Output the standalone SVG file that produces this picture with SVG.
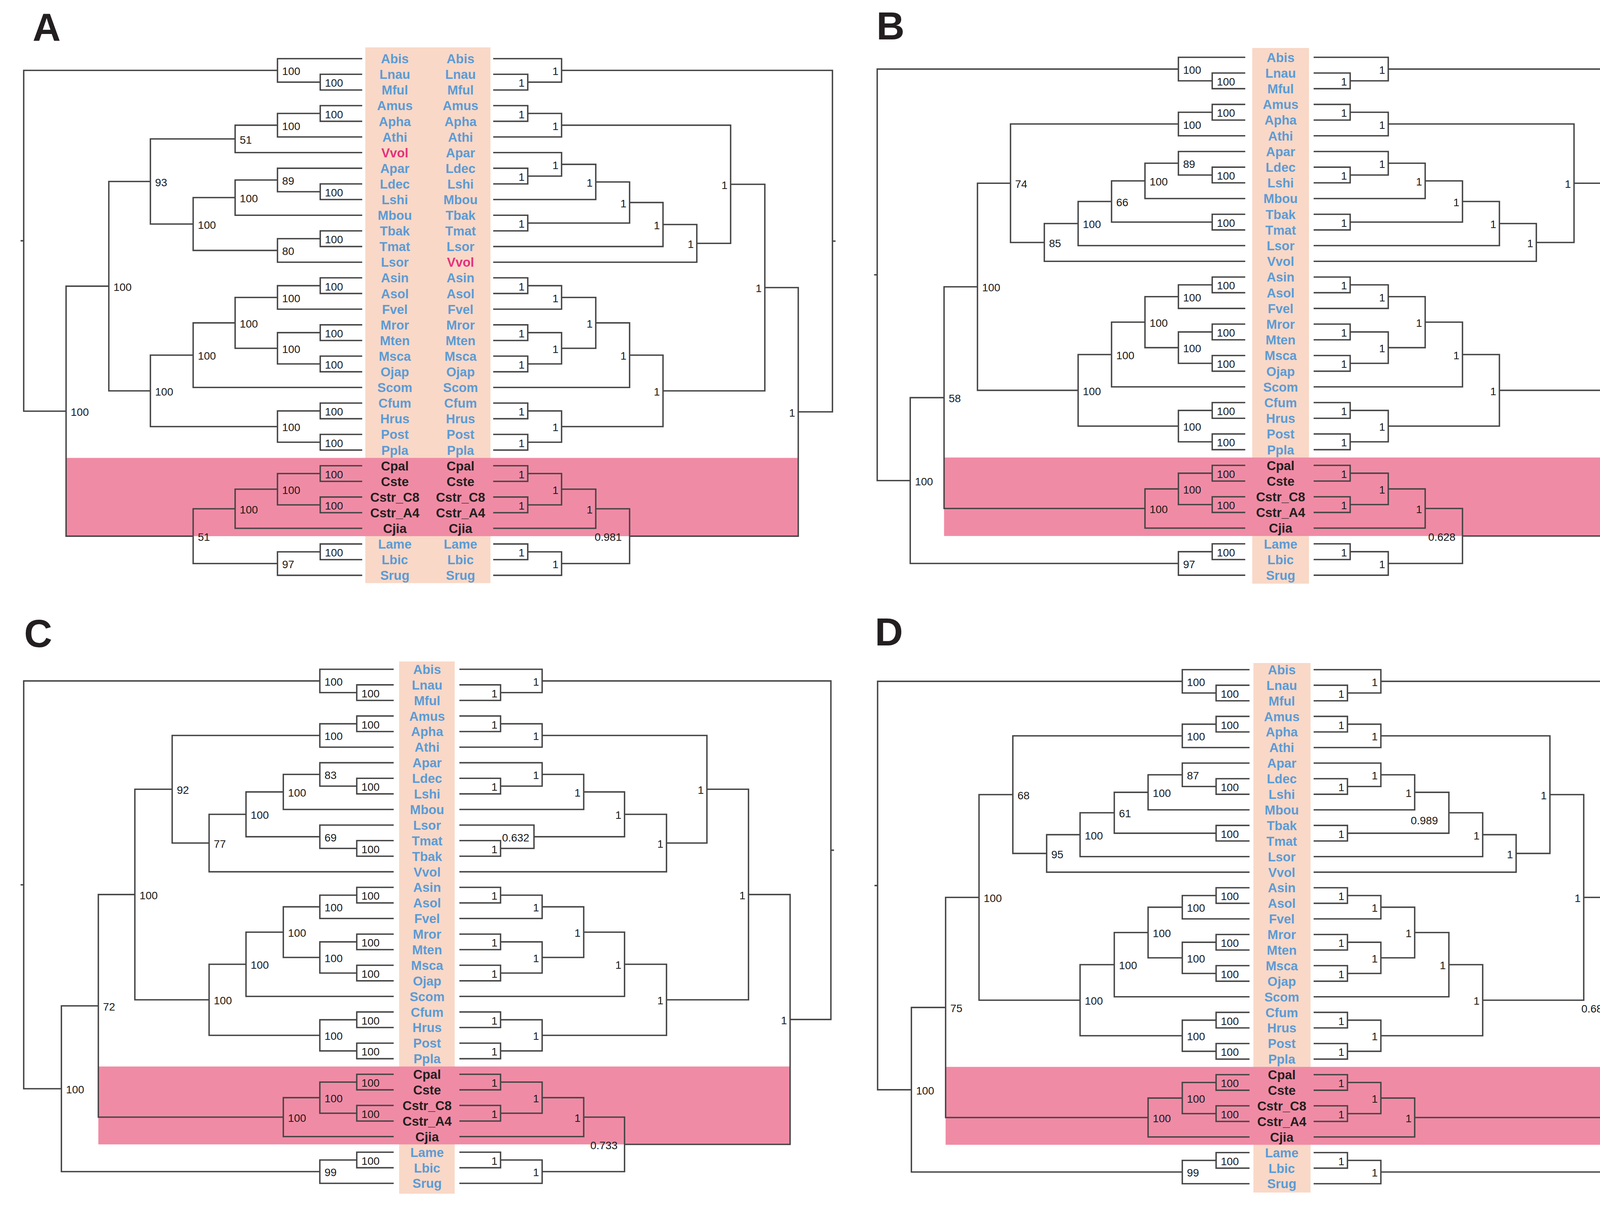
<svg xmlns="http://www.w3.org/2000/svg" width="4360" height="3086" viewBox="0 0 4360 3086">
<style>
.ln{fill:none;stroke:#454545;stroke-width:3.6}
.tx{font-family:"Liberation Sans",Arial,sans-serif;font-weight:bold;font-size:33px;text-anchor:middle;fill:#5b9bd5}
.tk{fill:#231f20}
.tv{fill:#e5317b}
.bs{font-family:"Liberation Sans",Arial,sans-serif;font-size:28px;fill:#1a1a1a}
.e{text-anchor:end}
.pl{font-family:"Liberation Sans",Arial,sans-serif;font-weight:bold;font-size:100px;fill:#231f20}
.sal{fill:#f9d8c7}
.pk{fill:#f08ba5}
</style>
<rect width="4360" height="3086" fill="#fff"/>

<g id="panelA" transform="matrix(0.9949 0 0 0.9949 0 0)">
<text class="pl" x="84" y="106">A</text>
<g id="A-bg"><rect class="sal" x="940" y="122" width="322" height="1379"/><rect class="pk" x="170" y="1178.65" width="1884" height="201.5"/></g>
<g id="A-connectors">
<path class="ln" d="M932 191.3H824V231.6H932M932 151H714V211.45H824M932 271.9H824V312.2H932M824 292.05H714V352.5H932M714 322.3H605V392.8H932M932 473.4H824V513.7H932M932 433.1H714V493.55H824M714 463.3H605V554H932M932 594.3H824V634.6H932M824 614.45H714V674.9H932M605 508.65H497V644.7H714M605 357.55H387V576.7H497M932 715.2H824V755.5H932M824 735.35H714V795.8H932M932 836.1H824V876.4H932M932 916.7H824V957H932M824 856.25H714V936.85H824M714 765.6H605V896.55H714M605 831.1H497V997.3H932M932 1037.6H824V1077.9H932M932 1118.2H824V1158.5H932M824 1057.75H714V1138.35H824M497 914.2H387V1098.05H714M387 467.1H280V1006.1H387M932 1198.8H824V1239.1H932M932 1279.4H824V1319.7H932M824 1218.95H714V1299.55H824M714 1259.25H605V1360H932M932 1400.3H824V1440.6H932M824 1420.45H714V1480.9H932M605 1309.6H497V1450.7H714M280 736.6H170V1380.15H497M714 181.2H61V1058.4H170M61 619.8H53"/>
<path class="ln" d="M1269 191.3H1358V231.6H1269M1269 151H1445V211.45H1358M1269 271.9H1358V312.2H1269M1358 292.05H1445V352.5H1269M1269 433.1H1358V473.4H1269M1269 392.8H1445V453.25H1358M1445 423H1533V513.7H1269M1269 554H1358V594.3H1269M1533 468.35H1620V574.15H1358M1620 521.25H1706V634.6H1269M1706 577.9H1793V674.9H1269M1445 322.3H1880V626.4H1793M1269 715.2H1358V755.5H1269M1358 735.35H1445V795.8H1269M1269 836.1H1358V876.4H1269M1269 916.7H1358V957H1269M1358 856.25H1445V936.85H1358M1445 765.6H1533V896.55H1445M1533 831.1H1620V997.3H1269M1269 1037.6H1358V1077.9H1269M1269 1118.2H1358V1158.5H1269M1358 1057.75H1445V1138.35H1358M1620 914.2H1706V1098.05H1445M1880 474.35H1968V1006.1H1706M1269 1198.8H1358V1239.1H1269M1269 1279.4H1358V1319.7H1269M1358 1218.95H1445V1299.55H1358M1445 1259.25H1533V1360H1269M1269 1400.3H1358V1440.6H1269M1358 1420.45H1445V1480.9H1269M1533 1309.6H1620V1450.7H1445M1968 740.2H2054V1380.15H1620M1445 181.2H2142V1060.2H2054M2142 620.7H2150"/>
</g>
<g id="A-taxa-left" class="tx">
<text x="1016" y="163">Abis</text><text x="1016" y="203.3">Lnau</text><text x="1016" y="243.6">Mful</text><text x="1016" y="283.9">Amus</text><text x="1016" y="324.2">Apha</text><text x="1016" y="364.5">Athi</text><text class="tv" x="1016" y="404.8">Vvol</text><text x="1016" y="445.1">Apar</text><text x="1016" y="485.4">Ldec</text><text x="1016" y="525.7">Lshi</text><text x="1016" y="566">Mbou</text><text x="1016" y="606.3">Tbak</text><text x="1016" y="646.6">Tmat</text><text x="1016" y="686.9">Lsor</text><text x="1016" y="727.2">Asin</text><text x="1016" y="767.5">Asol</text><text x="1016" y="807.8">Fvel</text><text x="1016" y="848.1">Mror</text><text x="1016" y="888.4">Mten</text><text x="1016" y="928.7">Msca</text><text x="1016" y="969">Ojap</text><text x="1016" y="1009.3">Scom</text><text x="1016" y="1049.6">Cfum</text><text x="1016" y="1089.9">Hrus</text><text x="1016" y="1130.2">Post</text><text x="1016" y="1170.5">Ppla</text><text class="tk" x="1016" y="1210.8">Cpal</text><text class="tk" x="1016" y="1251.1">Cste</text><text class="tk" x="1016" y="1291.4">Cstr_C8</text><text class="tk" x="1016" y="1331.7">Cstr_A4</text><text class="tk" x="1016" y="1372">Cjia</text><text x="1016" y="1412.3">Lame</text><text x="1016" y="1452.6">Lbic</text><text x="1016" y="1492.9">Srug</text>
</g>
<g id="A-taxa-right" class="tx">
<text x="1185" y="163">Abis</text><text x="1185" y="203.3">Lnau</text><text x="1185" y="243.6">Mful</text><text x="1185" y="283.9">Amus</text><text x="1185" y="324.2">Apha</text><text x="1185" y="364.5">Athi</text><text x="1185" y="404.8">Apar</text><text x="1185" y="445.1">Ldec</text><text x="1185" y="485.4">Lshi</text><text x="1185" y="525.7">Mbou</text><text x="1185" y="566">Tbak</text><text x="1185" y="606.3">Tmat</text><text x="1185" y="646.6">Lsor</text><text class="tv" x="1185" y="686.9">Vvol</text><text x="1185" y="727.2">Asin</text><text x="1185" y="767.5">Asol</text><text x="1185" y="807.8">Fvel</text><text x="1185" y="848.1">Mror</text><text x="1185" y="888.4">Mten</text><text x="1185" y="928.7">Msca</text><text x="1185" y="969">Ojap</text><text x="1185" y="1009.3">Scom</text><text x="1185" y="1049.6">Cfum</text><text x="1185" y="1089.9">Hrus</text><text x="1185" y="1130.2">Post</text><text x="1185" y="1170.5">Ppla</text><text class="tk" x="1185" y="1210.8">Cpal</text><text class="tk" x="1185" y="1251.1">Cste</text><text class="tk" x="1185" y="1291.4">Cstr_C8</text><text class="tk" x="1185" y="1331.7">Cstr_A4</text><text class="tk" x="1185" y="1372">Cjia</text><text x="1185" y="1412.3">Lame</text><text x="1185" y="1452.6">Lbic</text><text x="1185" y="1492.9">Srug</text>
</g>
<g id="A-support-left" class="bs">
<text x="836" y="223.5">100</text><text x="726" y="193.2">100</text><text x="836" y="304.1">100</text><text x="726" y="334.3">100</text><text x="617" y="369.6">51</text><text x="836" y="505.6">100</text><text x="726" y="475.3">89</text><text x="617" y="520.7">100</text><text x="836" y="626.5">100</text><text x="726" y="656.7">80</text><text x="509" y="588.7">100</text><text x="399" y="479.1">93</text><text x="836" y="747.4">100</text><text x="726" y="777.6">100</text><text x="836" y="868.3">100</text><text x="836" y="948.9">100</text><text x="726" y="908.6">100</text><text x="617" y="843.1">100</text><text x="509" y="926.2">100</text><text x="836" y="1069.8">100</text><text x="836" y="1150.4">100</text><text x="726" y="1110.1">100</text><text x="399" y="1018.1">100</text><text x="292" y="748.6">100</text><text x="836" y="1231">100</text><text x="836" y="1311.6">100</text><text x="726" y="1271.3">100</text><text x="617" y="1321.6">100</text><text x="836" y="1432.5">100</text><text x="726" y="1462.7">97</text><text x="509" y="1392.2">51</text><text x="182" y="1070.4">100</text>
</g>
<g id="A-support-right" class="bs e" transform="translate(-2 0)">
<text x="1352" y="223.5">1</text><text x="1439" y="193.2">1</text><text x="1352" y="304.1">1</text><text x="1439" y="334.3">1</text><text x="1352" y="465.3">1</text><text x="1439" y="435">1</text><text x="1527" y="480.4">1</text><text x="1352" y="586.2">1</text><text x="1614" y="533.3">1</text><text x="1700" y="589.9">1</text><text x="1787" y="638.4">1</text><text x="1874" y="486.4">1</text><text x="1352" y="747.4">1</text><text x="1439" y="777.6">1</text><text x="1352" y="868.3">1</text><text x="1352" y="948.9">1</text><text x="1439" y="908.6">1</text><text x="1527" y="843.1">1</text><text x="1614" y="926.2">1</text><text x="1352" y="1069.8">1</text><text x="1352" y="1150.4">1</text><text x="1439" y="1110.1">1</text><text x="1700" y="1018.1">1</text><text x="1962" y="752.2">1</text><text x="1352" y="1231">1</text><text x="1352" y="1311.6">1</text><text x="1439" y="1271.3">1</text><text x="1527" y="1321.6">1</text><text x="1352" y="1432.5">1</text><text x="1439" y="1462.7">1</text><text x="1602" y="1392.2">0.981</text><text x="2048" y="1072.2">1</text>
</g>
</g>

<g id="panelB" transform="matrix(0.9949 0 0 0.9949 11.1 1.5)">
<text class="pl" x="2244" y="100">B</text>
<g id="B-bg"><rect class="sal" x="3211" y="122" width="146" height="1379"/><rect class="pk" x="2418" y="1176.2" width="1812" height="202"/></g>
<g id="B-connectors">
<path class="ln" d="M3193 186.4H3108V226.8H3193M3193 146H3021V206.6H3108M3193 267.2H3108V307.6H3193M3108 287.4H3021V348H3193M3193 428.8H3108V469.2H3193M3193 388.4H3021V449H3108M3021 418.7H2935V509.6H3193M3193 550H3108V590.4H3193M2935 464.15H2849V570.2H3108M2849 517.2H2763V630.8H3193M2763 574H2676V671.2H3193M3021 317.7H2589V622.6H2676M3193 711.6H3108V752H3193M3108 731.8H3021V792.4H3193M3193 832.8H3108V873.2H3193M3193 913.6H3108V954H3193M3108 853H3021V933.8H3108M3021 762.1H2935V893.4H3021M2935 827.75H2849V994.4H3193M3193 1034.8H3108V1075.2H3193M3193 1115.6H3108V1156H3193M3108 1055H3021V1135.8H3108M2849 911.1H2763V1095.4H3021M2589 470.15H2504V1003.25H2763M3193 1196.4H3108V1236.8H3193M3193 1277.2H3108V1317.6H3193M3108 1216.6H3021V1297.4H3108M3021 1257H2935V1358H3193M3193 1398.4H3108V1438.8H3193M3108 1418.6H3021V1479.2H3193M2504 736.7H2418V1307.5H2935M2418 1022.1H2331V1448.9H3021M3021 176.3H2246V1235.5H2331M2246 705.9H2238"/>
<path class="ln" d="M3369 186.4H3463V226.8H3369M3369 146H3561V206.6H3463M3369 267.2H3463V307.6H3369M3463 287.4H3561V348H3369M3369 428.8H3463V469.2H3369M3369 388.4H3561V449H3463M3561 418.7H3656V509.6H3369M3369 550H3463V590.4H3369M3656 464.15H3752V570.2H3463M3752 517.2H3847V630.8H3369M3847 574H3942V671.2H3369M3561 317.7H4039V622.6H3942M3369 711.6H3463V752H3369M3463 731.8H3561V792.4H3369M3369 832.8H3463V873.2H3369M3369 913.6H3463V954H3369M3463 853H3561V933.8H3463M3561 762.1H3656V893.4H3561M3656 827.75H3752V994.4H3369M3369 1034.8H3463V1075.2H3369M3369 1115.6H3463V1156H3369M3463 1055H3561V1135.8H3463M3752 911.1H3847V1095.4H3561M4039 470.15H4134V1003.25H3847M3369 1196.4H3463V1236.8H3369M3369 1277.2H3463V1317.6H3369M3463 1216.6H3561V1297.4H3463M3561 1257H3656V1358H3369M3369 1398.4H3463V1438.8H3369M3463 1418.6H3561V1479.2H3369M3656 1307.5H3752V1448.9H3561M4134 736.7H4230V1378.2H3752M3561 176.3H4325V1057.45H4230M4325 616.9H4333"/>
</g>
<g id="B-taxa" class="tx">
<text x="3284" y="158">Abis</text><text x="3284" y="198.4">Lnau</text><text x="3284" y="238.8">Mful</text><text x="3284" y="279.2">Amus</text><text x="3284" y="319.6">Apha</text><text x="3284" y="360">Athi</text><text x="3284" y="400.4">Apar</text><text x="3284" y="440.8">Ldec</text><text x="3284" y="481.2">Lshi</text><text x="3284" y="521.6">Mbou</text><text x="3284" y="562">Tbak</text><text x="3284" y="602.4">Tmat</text><text x="3284" y="642.8">Lsor</text><text x="3284" y="683.2">Vvol</text><text x="3284" y="723.6">Asin</text><text x="3284" y="764">Asol</text><text x="3284" y="804.4">Fvel</text><text x="3284" y="844.8">Mror</text><text x="3284" y="885.2">Mten</text><text x="3284" y="925.6">Msca</text><text x="3284" y="966">Ojap</text><text x="3284" y="1006.4">Scom</text><text x="3284" y="1046.8">Cfum</text><text x="3284" y="1087.2">Hrus</text><text x="3284" y="1127.6">Post</text><text x="3284" y="1168">Ppla</text><text class="tk" x="3284" y="1208.4">Cpal</text><text class="tk" x="3284" y="1248.8">Cste</text><text class="tk" x="3284" y="1289.2">Cstr_C8</text><text class="tk" x="3284" y="1329.6">Cstr_A4</text><text class="tk" x="3284" y="1370">Cjia</text><text x="3284" y="1410.4">Lame</text><text x="3284" y="1450.8">Lbic</text><text x="3284" y="1491.2">Srug</text>
</g>
<g id="B-support-left" class="bs">
<text x="3120" y="218.6">100</text><text x="3033" y="188.3">100</text><text x="3120" y="299.4">100</text><text x="3033" y="329.7">100</text><text x="3120" y="461">100</text><text x="3033" y="430.7">89</text><text x="2947" y="476.2">100</text><text x="3120" y="582.2">100</text><text x="2861" y="529.2">66</text><text x="2775" y="586">100</text><text x="2688" y="634.6">85</text><text x="2601" y="482.2">74</text><text x="3120" y="743.8">100</text><text x="3033" y="774.1">100</text><text x="3120" y="865">100</text><text x="3120" y="945.8">100</text><text x="3033" y="905.4">100</text><text x="2947" y="839.8">100</text><text x="2861" y="923.1">100</text><text x="3120" y="1067">100</text><text x="3120" y="1147.8">100</text><text x="3033" y="1107.4">100</text><text x="2775" y="1015.3">100</text><text x="2516" y="748.7">100</text><text x="3120" y="1228.6">100</text><text x="3120" y="1309.4">100</text><text x="3033" y="1269">100</text><text x="2947" y="1319.5">100</text><text x="3120" y="1430.6">100</text><text x="3033" y="1460.9">97</text><text x="2430" y="1034.1">58</text><text x="2343" y="1247.5">100</text>
</g>
<g id="B-support-right" class="bs e" transform="translate(-2 0)">
<text x="3457" y="218.6">1</text><text x="3555" y="188.3">1</text><text x="3457" y="299.4">1</text><text x="3555" y="329.7">1</text><text x="3457" y="461">1</text><text x="3555" y="430.7">1</text><text x="3650" y="476.2">1</text><text x="3457" y="582.2">1</text><text x="3746" y="529.2">1</text><text x="3841" y="586">1</text><text x="3936" y="634.6">1</text><text x="4033" y="482.2">1</text><text x="3457" y="743.8">1</text><text x="3555" y="774.1">1</text><text x="3457" y="865">1</text><text x="3457" y="945.8">1</text><text x="3555" y="905.4">1</text><text x="3650" y="839.8">1</text><text x="3746" y="923.1">1</text><text x="3457" y="1067">1</text><text x="3457" y="1147.8">1</text><text x="3555" y="1107.4">1</text><text x="3841" y="1015.3">1</text><text x="4128" y="748.7">1</text><text x="3457" y="1228.6">1</text><text x="3457" y="1309.4">1</text><text x="3555" y="1269">1</text><text x="3650" y="1319.5">1</text><text x="3457" y="1430.6">1</text><text x="3555" y="1460.9">1</text><text x="3736" y="1390.2">0.628</text><text x="4224" y="1069.5">1</text>
</g>
</g>

<g id="panelC" transform="matrix(0.9949 0 0 0.9949 0 9.7)">
<text class="pl" x="62" y="1656">C</text>
<g id="C-bg"><rect class="sal" x="1027" y="1693" width="143" height="1370"/><rect class="pk" x="253" y="2735.55" width="1780" height="200.5"/></g>
<g id="C-connectors">
<path class="ln" d="M1013 1753.1H918V1793.2H1013M1013 1713H823V1773.15H918M1013 1833.3H918V1873.4H1013M918 1853.35H823V1913.5H1013M1013 1993.7H918V2033.8H1013M1013 1953.6H823V2013.75H918M823 1983.7H729V2073.9H1013M1013 2154.1H918V2194.2H1013M1013 2114H823V2174.15H918M729 2028.8H633V2144.1H823M633 2086.45H538V2234.3H1013M823 1883.4H443V2160.4H538M1013 2274.4H918V2314.5H1013M918 2294.45H823V2354.6H1013M1013 2394.7H918V2434.8H1013M1013 2474.9H918V2515H1013M918 2414.75H823V2494.95H918M823 2324.5H729V2454.85H823M729 2389.7H633V2555.1H1013M1013 2595.2H918V2635.3H1013M1013 2675.4H918V2715.5H1013M918 2615.25H823V2695.45H918M633 2472.4H538V2655.35H823M443 2021.9H347V2563.9H538M1013 2755.6H918V2795.7H1013M1013 2835.8H918V2875.9H1013M918 2775.65H823V2855.85H918M823 2815.75H729V2916H1013M1013 2956.1H918V2996.2H1013M918 2976.15H823V3036.3H1013M347 2292.9H253V2865.9H729M253 2579.4H158V3006.2H823M823 1743.1H61V2792.8H158M61 2267.95H53"/>
<path class="ln" d="M1182 1753.1H1288V1793.2H1182M1182 1713H1395V1773.15H1288M1182 1833.3H1288V1873.4H1182M1288 1853.35H1395V1913.5H1182M1182 1993.7H1288V2033.8H1182M1182 1953.6H1395V2013.75H1288M1395 1983.7H1502V2073.9H1182M1182 2154.1H1288V2194.2H1182M1182 2114H1374V2174.15H1288M1502 2028.8H1607V2144.1H1374M1607 2086.45H1715V2234.3H1182M1395 1883.4H1819V2160.4H1715M1182 2274.4H1288V2314.5H1182M1288 2294.45H1395V2354.6H1182M1182 2394.7H1288V2434.8H1182M1182 2474.9H1288V2515H1182M1288 2414.75H1395V2494.95H1288M1395 2324.5H1502V2454.85H1395M1502 2389.7H1607V2555.1H1182M1182 2595.2H1288V2635.3H1182M1182 2675.4H1288V2715.5H1182M1288 2615.25H1395V2695.45H1288M1607 2472.4H1715V2655.35H1395M1819 2021.9H1926V2563.9H1715M1182 2755.6H1288V2795.7H1182M1182 2835.8H1288V2875.9H1182M1288 2775.65H1395V2855.85H1288M1395 2815.75H1502V2916H1182M1182 2956.1H1288V2996.2H1182M1288 2976.15H1395V3036.3H1182M1502 2865.9H1607V3006.2H1395M1926 2292.9H2033V2936.05H1607M1395 1743.1H2138V2614.5H2033M2138 2178.8H2146"/>
</g>
<g id="C-taxa" class="tx">
<text x="1099" y="1725">Abis</text><text x="1099" y="1765.1">Lnau</text><text x="1099" y="1805.2">Mful</text><text x="1099" y="1845.3">Amus</text><text x="1099" y="1885.4">Apha</text><text x="1099" y="1925.5">Athi</text><text x="1099" y="1965.6">Apar</text><text x="1099" y="2005.7">Ldec</text><text x="1099" y="2045.8">Lshi</text><text x="1099" y="2085.9">Mbou</text><text x="1099" y="2126">Lsor</text><text x="1099" y="2166.1">Tmat</text><text x="1099" y="2206.2">Tbak</text><text x="1099" y="2246.3">Vvol</text><text x="1099" y="2286.4">Asin</text><text x="1099" y="2326.5">Asol</text><text x="1099" y="2366.6">Fvel</text><text x="1099" y="2406.7">Mror</text><text x="1099" y="2446.8">Mten</text><text x="1099" y="2486.9">Msca</text><text x="1099" y="2527">Ojap</text><text x="1099" y="2567.1">Scom</text><text x="1099" y="2607.2">Cfum</text><text x="1099" y="2647.3">Hrus</text><text x="1099" y="2687.4">Post</text><text x="1099" y="2727.5">Ppla</text><text class="tk" x="1099" y="2767.6">Cpal</text><text class="tk" x="1099" y="2807.7">Cste</text><text class="tk" x="1099" y="2847.8">Cstr_C8</text><text class="tk" x="1099" y="2887.9">Cstr_A4</text><text class="tk" x="1099" y="2928">Cjia</text><text x="1099" y="2968.1">Lame</text><text x="1099" y="3008.2">Lbic</text><text x="1099" y="3048.3">Srug</text>
</g>
<g id="C-support-left" class="bs">
<text x="930" y="1785.2">100</text><text x="835" y="1755.1">100</text><text x="930" y="1865.4">100</text><text x="835" y="1895.4">100</text><text x="930" y="2025.8">100</text><text x="835" y="1995.7">83</text><text x="741" y="2040.8">100</text><text x="930" y="2186.2">100</text><text x="835" y="2156.1">69</text><text x="645" y="2098.5">100</text><text x="550" y="2172.4">77</text><text x="455" y="2033.9">92</text><text x="930" y="2306.5">100</text><text x="835" y="2336.5">100</text><text x="930" y="2426.8">100</text><text x="930" y="2507">100</text><text x="835" y="2466.9">100</text><text x="741" y="2401.7">100</text><text x="645" y="2484.4">100</text><text x="930" y="2627.3">100</text><text x="930" y="2707.5">100</text><text x="835" y="2667.4">100</text><text x="550" y="2575.9">100</text><text x="359" y="2304.9">100</text><text x="930" y="2787.7">100</text><text x="930" y="2867.9">100</text><text x="835" y="2827.8">100</text><text x="741" y="2877.9">100</text><text x="930" y="2988.2">100</text><text x="835" y="3018.2">99</text><text x="265" y="2591.4">72</text><text x="170" y="2804.8">100</text>
</g>
<g id="C-support-right" class="bs e" transform="translate(-2 0)">
<text x="1282" y="1785.2">1</text><text x="1389" y="1755.1">1</text><text x="1282" y="1865.4">1</text><text x="1389" y="1895.4">1</text><text x="1282" y="2025.8">1</text><text x="1389" y="1995.7">1</text><text x="1496" y="2040.8">1</text><text x="1282" y="2186.2">1</text><text x="1364" y="2156.1">0.632</text><text x="1601" y="2098.5">1</text><text x="1709" y="2172.4">1</text><text x="1813" y="2033.9">1</text><text x="1282" y="2306.5">1</text><text x="1389" y="2336.5">1</text><text x="1282" y="2426.8">1</text><text x="1282" y="2507">1</text><text x="1389" y="2466.9">1</text><text x="1496" y="2401.7">1</text><text x="1601" y="2484.4">1</text><text x="1282" y="2627.3">1</text><text x="1282" y="2707.5">1</text><text x="1389" y="2667.4">1</text><text x="1709" y="2575.9">1</text><text x="1920" y="2304.9">1</text><text x="1282" y="2787.7">1</text><text x="1282" y="2867.9">1</text><text x="1389" y="2827.8">1</text><text x="1496" y="2877.9">1</text><text x="1282" y="2988.2">1</text><text x="1389" y="3018.2">1</text><text x="1591" y="2948.1">0.733</text><text x="2027" y="2626.5">1</text>
</g>
</g>

<g id="panelD" transform="matrix(0.9949 0 0 0.9949 11.1 9.7)">
<text class="pl" x="2240" y="1652">D</text>
<g id="D-bg"><rect class="sal" x="3214" y="1697" width="147" height="1363"/><rect class="pk" x="2422" y="2736.55" width="1728" height="200.5"/></g>
<g id="D-connectors">
<path class="ln" d="M3204 1754.1H3118V1794.2H3204M3204 1714H3031V1774.15H3118M3204 1834.3H3118V1874.4H3204M3118 1854.35H3031V1914.5H3204M3204 1994.7H3118V2034.8H3204M3204 1954.6H3031V2014.75H3118M3031 1984.7H2943V2074.9H3204M3204 2115H3118V2155.1H3204M2943 2029.8H2856V2135.05H3118M2856 2082.4H2768V2195.2H3204M2768 2138.8H2682V2235.3H3204M3031 1884.4H2595V2187.05H2682M3204 2275.4H3118V2315.5H3204M3118 2295.45H3031V2355.6H3204M3204 2395.7H3118V2435.8H3204M3204 2475.9H3118V2516H3204M3118 2415.75H3031V2495.95H3118M3031 2325.5H2943V2455.85H3031M2943 2390.7H2856V2556.1H3204M3204 2596.2H3118V2636.3H3204M3204 2676.4H3118V2716.5H3204M3118 2616.25H3031V2696.45H3118M2856 2473.4H2768V2656.35H3031M2595 2035.7H2508V2564.9H2768M3204 2756.6H3118V2796.7H3204M3204 2836.8H3118V2876.9H3204M3118 2776.65H3031V2856.85H3118M3031 2816.75H2943V2917H3204M3204 2957.1H3118V2997.2H3204M3118 2977.15H3031V3037.3H3204M2508 2300.3H2422V2866.9H2943M2422 2583.6H2334V3007.2H3031M3031 1744.1H2247V2795.4H2334M2247 2269.75H2239"/>
<path class="ln" d="M3369 1754.1H3456V1794.2H3369M3369 1714H3542V1774.15H3456M3369 1834.3H3456V1874.4H3369M3456 1854.35H3542V1914.5H3369M3369 1994.7H3456V2034.8H3369M3369 1954.6H3542V2014.75H3456M3542 1984.7H3629V2074.9H3369M3369 2115H3456V2155.1H3369M3629 2029.8H3717V2135.05H3456M3717 2082.4H3804V2195.2H3369M3804 2138.8H3890V2235.3H3369M3542 1884.4H3977V2187.05H3890M3369 2275.4H3456V2315.5H3369M3456 2295.45H3542V2355.6H3369M3369 2395.7H3456V2435.8H3369M3369 2475.9H3456V2516H3369M3456 2415.75H3542V2495.95H3456M3542 2325.5H3629V2455.85H3542M3629 2390.7H3717V2556.1H3369M3369 2596.2H3456V2636.3H3369M3369 2676.4H3456V2716.5H3369M3456 2616.25H3542V2696.45H3456M3717 2473.4H3804V2656.35H3542M3977 2035.7H4064V2564.9H3804M3369 2756.6H3456V2796.7H3369M3369 2836.8H3456V2876.9H3369M3456 2776.65H3542V2856.85H3456M3542 2816.75H3629V2917H3369M3369 2957.1H3456V2997.2H3369M3456 2977.15H3542V3037.3H3369M4064 2300.3H4150V2866.9H3629M4150 2583.6H4237V3007.2H3542M3542 1744.1H4325V2795.4H4237M4325 2269.75H4333"/>
</g>
<g id="D-taxa" class="tx">
<text x="3287" y="1726">Abis</text><text x="3287" y="1766.1">Lnau</text><text x="3287" y="1806.2">Mful</text><text x="3287" y="1846.3">Amus</text><text x="3287" y="1886.4">Apha</text><text x="3287" y="1926.5">Athi</text><text x="3287" y="1966.6">Apar</text><text x="3287" y="2006.7">Ldec</text><text x="3287" y="2046.8">Lshi</text><text x="3287" y="2086.9">Mbou</text><text x="3287" y="2127">Tbak</text><text x="3287" y="2167.1">Tmat</text><text x="3287" y="2207.2">Lsor</text><text x="3287" y="2247.3">Vvol</text><text x="3287" y="2287.4">Asin</text><text x="3287" y="2327.5">Asol</text><text x="3287" y="2367.6">Fvel</text><text x="3287" y="2407.7">Mror</text><text x="3287" y="2447.8">Mten</text><text x="3287" y="2487.9">Msca</text><text x="3287" y="2528">Ojap</text><text x="3287" y="2568.1">Scom</text><text x="3287" y="2608.2">Cfum</text><text x="3287" y="2648.3">Hrus</text><text x="3287" y="2688.4">Post</text><text x="3287" y="2728.5">Ppla</text><text class="tk" x="3287" y="2768.6">Cpal</text><text class="tk" x="3287" y="2808.7">Cste</text><text class="tk" x="3287" y="2848.8">Cstr_C8</text><text class="tk" x="3287" y="2888.9">Cstr_A4</text><text class="tk" x="3287" y="2929">Cjia</text><text x="3287" y="2969.1">Lame</text><text x="3287" y="3009.2">Lbic</text><text x="3287" y="3049.3">Srug</text>
</g>
<g id="D-support-left" class="bs">
<text x="3130" y="1786.2">100</text><text x="3043" y="1756.1">100</text><text x="3130" y="1866.4">100</text><text x="3043" y="1896.4">100</text><text x="3130" y="2026.8">100</text><text x="3043" y="1996.7">87</text><text x="2955" y="2041.8">100</text><text x="3130" y="2147.1">100</text><text x="2868" y="2094.4">61</text><text x="2780" y="2150.8">100</text><text x="2694" y="2199.1">95</text><text x="2607" y="2047.7">68</text><text x="3130" y="2307.5">100</text><text x="3043" y="2337.5">100</text><text x="3130" y="2427.8">100</text><text x="3130" y="2508">100</text><text x="3043" y="2467.9">100</text><text x="2955" y="2402.7">100</text><text x="2868" y="2485.4">100</text><text x="3130" y="2628.3">100</text><text x="3130" y="2708.5">100</text><text x="3043" y="2668.4">100</text><text x="2780" y="2576.9">100</text><text x="2520" y="2312.3">100</text><text x="3130" y="2788.7">100</text><text x="3130" y="2868.9">100</text><text x="3043" y="2828.8">100</text><text x="2955" y="2878.9">100</text><text x="3130" y="2989.2">100</text><text x="3043" y="3019.2">99</text><text x="2434" y="2595.6">75</text><text x="2346" y="2807.4">100</text>
</g>
<g id="D-support-right" class="bs e" transform="translate(-2 0)">
<text x="3450" y="1786.2">1</text><text x="3536" y="1756.1">1</text><text x="3450" y="1866.4">1</text><text x="3536" y="1896.4">1</text><text x="3450" y="2026.8">1</text><text x="3536" y="1996.7">1</text><text x="3623" y="2041.8">1</text><text x="3450" y="2147.1">1</text><text x="3691" y="2112">0.989</text><text x="3798" y="2150.8">1</text><text x="3884" y="2199.1">1</text><text x="3971" y="2047.7">1</text><text x="3450" y="2307.5">1</text><text x="3536" y="2337.5">1</text><text x="3450" y="2427.8">1</text><text x="3450" y="2508">1</text><text x="3536" y="2467.9">1</text><text x="3623" y="2402.7">1</text><text x="3711" y="2485.4">1</text><text x="3450" y="2628.3">1</text><text x="3450" y="2708.5">1</text><text x="3536" y="2668.4">1</text><text x="3798" y="2576.9">1</text><text x="4058" y="2312.3">1</text><text x="3450" y="2788.7">1</text><text x="3450" y="2868.9">1</text><text x="3536" y="2828.8">1</text><text x="3623" y="2878.9">1</text><text x="3450" y="2989.2">1</text><text x="3536" y="3019.2">1</text><text x="4130" y="2597">0.689</text><text x="4231" y="2807.4">1</text>
</g>
</g>
</svg>
